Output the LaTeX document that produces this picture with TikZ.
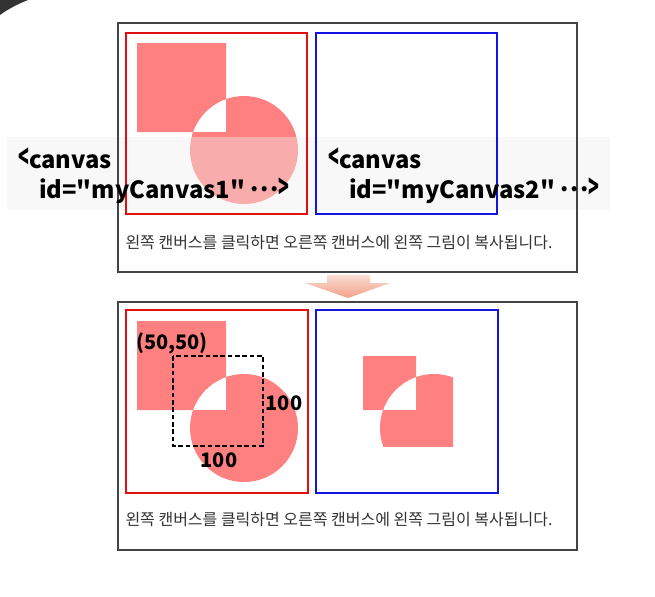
\documentclass[tikz,border=0pt]{standalone}
\usepackage{fontspec}
\setmainfont{Noto Sans CJK KR}[Ligatures=TeXOff]
\definecolor{pinkfill}{HTML}{FF8080}
\definecolor{redline}{HTML}{E01010}
\definecolor{blueline}{HTML}{1414E0}
\definecolor{boxline}{HTML}{444444}
\definecolor{captiongray}{HTML}{333333}
\definecolor{cornerdark}{HTML}{333333}
\definecolor{bandgray}{HTML}{EEEEEE}
\definecolor{arrowtop}{HTML}{FBDDD3}
\definecolor{arrowbot}{HTML}{F1A088}
\newcommand{\chevl}{\scalebox{0.75}[1.35]{\raisebox{-0.02em}{<}}}
\newcommand{\chevr}{\scalebox{0.75}[1.35]{\raisebox{-0.02em}{>}}}
\newcommand{\mdots}{\raisebox{0.28em}{.\kern0.06em.\kern0.06em.}}
\begin{document}
\begin{tikzpicture}[x=0.75pt,y=-0.75pt,
  outerbox/.style={draw=boxline,line width=0.9pt},
  redcanvas/.style={draw=redline,line width=1.6pt},
  bluecanvas/.style={draw=blueline,line width=1.6pt},
  xorshape/.style={fill=pinkfill,even odd rule},
  codetxt/.style={font=\bfseries\fontsize{17.8}{21}\selectfont,anchor=base west,inner sep=0pt},
  captxt/.style={font=\fontsize{12}{14}\selectfont,text=captiongray,inner sep=0pt},
  dimtxt/.style={font=\bfseries\fontsize{15}{18}\selectfont,inner sep=0pt},
  selbox/.style={draw=black,line width=1.1pt,dash pattern=on 3.5pt off 2pt}]
\useasboundingbox (0,0) rectangle (655,596);
\fill[white] (0,0) rectangle (655,596);
\fill[cornerdark] (0,0) -- (28,0) .. controls (18,4) and (8,9) .. (0,15) -- cycle;

% ---------- top panel ----------
\fill[xorshape] (137,43) rectangle (226,132) (244,150) circle[radius=54];
\fill[bandgray,opacity=0.4] (7,137) rectangle (610,210);
\draw[outerbox] (118,23) rectangle (577,272);
\draw[redcanvas] (126,33) rectangle (307,214);
\draw[bluecanvas] (316,33) rectangle (497,214);

\node[codetxt] (c1a) at (18,168) {\chevl canvas};
\node[codetxt] (c1b) at (39,198) {id="myCanvas1" \mdots\chevr};
\node[codetxt] (c2a) at (328,168) {\chevl canvas};
\node[codetxt] (c2b) at (349,198) {id="myCanvas2" \mdots\chevr};

\node[captxt] (cap1) at (339,243) {왼쪽 캔버스를 클릭하면 오른쪽 캔버스에 왼쪽 그림이 복사됩니다.};

% ---------- arrow ----------
\shade[top color=arrowtop,bottom color=arrowbot]
  (327,275) -- (370,275) -- (370,283) -- (390,283) -- (348,298) -- (305,283) -- (327,283) -- cycle;

% ---------- bottom panel ----------
\draw[outerbox] (118,302) rectangle (577,550);
\fill[xorshape] (137,321) rectangle (226,410) (244,428) circle[radius=54];
\begin{scope}
  \clip (363,356) rectangle (453,446);
  \fill[xorshape] (327,321) rectangle (416,410) (434,428) circle[radius=54];
\end{scope}
\draw[redcanvas] (126,310) rectangle (308,493);
\draw[bluecanvas] (316,310) rectangle (498,493);
\draw[selbox] (173,356) rectangle (263,446);

\node[dimtxt] (lblxy) at (172,343) {(50,50)};
\node[dimtxt] (lblh) at (284,403) {100};
\node[dimtxt] (lblw) at (219,460) {100};

\node[captxt] (cap2) at (339,520) {왼쪽 캔버스를 클릭하면 오른쪽 캔버스에 왼쪽 그림이 복사됩니다.};
\end{tikzpicture}
\end{document}
